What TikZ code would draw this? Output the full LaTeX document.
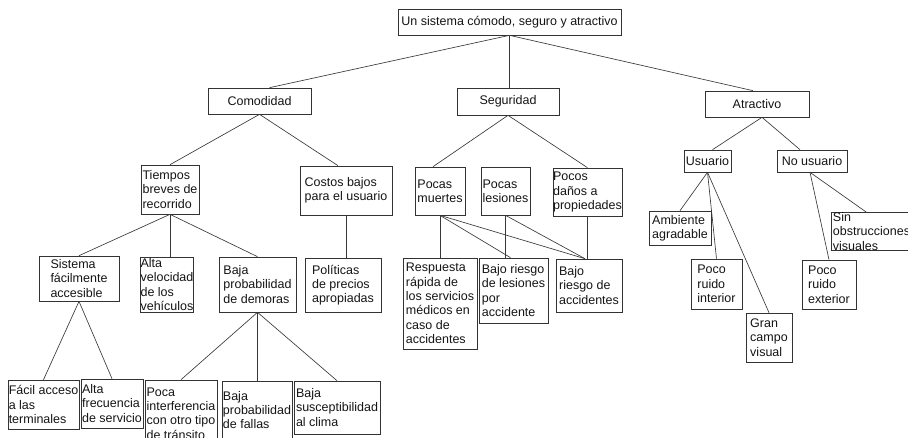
\documentclass[tikz,border=0pt]{standalone}
\usepackage{fontspec}
\setmainfont{Liberation Sans}
% \mkbox{name}{left}{top}{right}{bottom}{text}: a framed box given by its corners
\newcommand\mkbox[6]{%
  \node[box, minimum width={#4-#2}, minimum height={#5-#3}] (#1)
    at ({(#2+#4)/2},{(#3+#5)/2}) {#6};}
\begin{document}
\begin{tikzpicture}[x=1pt, y=-1pt,
  box/.style={draw=black!80, line width=0.65pt, inner sep=0pt, align=left,
    font=\fontsize{12.5}{14.3}\selectfont, text=black!92},
  link/.style={draw=black!78, line width=0.65pt}]
\useasboundingbox (0,0) rectangle (908,437);

% top level
\mkbox{root}{398}{9}{621}{35}{Un sistema cómodo, seguro y atractivo}
\mkbox{com}{208}{88}{311}{114}{Comodidad}
\mkbox{seg}{457}{88}{559}{115}{Seguridad}
\mkbox{atr}{705}{91}{809}{117}{Atractivo}

% comfort branch
\mkbox{tie}{141}{165}{199}{214}{Tiempos\\breves de\\recorrido}
\mkbox{cos}{300}{166}{392}{215}{Costos bajos\\para el usuario}
\mkbox{sfa}{39}{256}{119}{301}{Sistema\\fácilmente\\accesible}
\mkbox{avv}{143}{257}{191}{312}{Alta\\velocidad\\de los\\vehículos}
\mkbox{bpd}{219}{257}{296}{312}{Baja\\probabilidad\\de demoras}
\mkbox{pol}{305}{258}{381}{312}{Políticas\\de precios\\apropiadas}
\mkbox{fac}{8}{380}{79}{429}{Fácil acceso\\a las\\terminales}
\mkbox{afr}{81}{379}{143}{428}{Alta\\frecuencia\\de servicio}
\mkbox{poc}{145}{380}{217}{447}{Poca\\interferencia\\con otro tipo\\de tránsito}
\mkbox{bpf}{222}{381}{292}{439}{Baja\\probabilidad\\de fallas}
\mkbox{bsc}{294}{381}{380}{434}{Baja\\susceptibilidad\\al clima}

% safety branch
\mkbox{pm}{415}{167}{465}{215}{Pocas\\muertes}
\mkbox{pl}{481}{167}{530}{215}{Pocas\\lesiones}
\mkbox{pd}{553}{168}{622}{216}{Pocos\\daños a\\propiedades}
\mkbox{rd}{403}{258}{477}{349}{Respuesta\\rápida de\\los servicios\\médicos en\\caso de\\accidentes}
\mkbox{brl}{479}{258}{548}{323}{Bajo riesgo\\de lesiones\\por\\accidente}
\mkbox{bra}{556}{259}{622}{312}{Bajo\\riesgo de\\accidentes}

% attractiveness branch
\mkbox{usu}{684}{150}{731}{172}{Usuario}
\mkbox{nou}{777}{150}{847}{172}{No usuario}
\mkbox{amb}{649}{211}{711}{245}{Ambiente\\agradable}
\mkbox{pri}{691}{259}{742}{309}{Poco\\ruido\\interior}
\mkbox{gcv}{746}{313}{792}{362}{Gran\\campo\\visual}
\mkbox{pre}{802}{260}{856}{309}{Poco\\ruido\\exterior}
\mkbox{sob}{831}{213}{912}{250}{Sin\\obstrucciones\\visuales}

% connectors
\draw[link] (root.south) -- ([xshift=10pt]com.north);
\draw[link] (root.south) -- (root.south |- seg.north);
\draw[link] (root.south) -- ([xshift=-4pt]atr.north);

\draw[link] (com.south) -- (tie.north);
\draw[link] (com.south) -- ([xshift=-8pt]cos.north);
\draw[link] (tie.south) -- (sfa.north);
\draw[link] (tie.south) -- (tie.south |- avv.north);
\draw[link] (tie.south) -- (bpd.north);
\draw[link] (cos.south) -- (cos.south |- pol.north);
\draw[link] (sfa.south) -- (fac.north);
\draw[link] (sfa.south) -- (afr.north);
\draw[link] (bpd.south) -- (poc.north);
\draw[link] (bpd.south) -- (bpd.south |- bpf.north);
\draw[link] (bpd.south) -- (bsc.north);

\draw[link] (seg.south) -- ([xshift=-7pt]pm.north);
\draw[link] (seg.south) -- (pd.north);
\draw[link] (pm.south) -- (pm.south |- rd.north);
\draw[link] (pm.south) -- ([xshift=-3pt]brl.north);
\draw[link] (pm.south) -- ([xshift=-4pt]bra.north);
\draw[link] (pl.south) -- (pl.south |- brl.north);
\draw[link] (pl.south) -- ([xshift=-4pt]bra.north);
\draw[link] (pd.south) -- (pd.south |- bra.north);

\draw[link] ([xshift=5pt]atr.south) -- ([xshift=5pt]usu.north);
\draw[link] ([xshift=5pt]atr.south) -- ([xshift=-12pt]nou.north);
\draw[link] (usu.south) -- (amb.north);
\draw[link] (usu.south) -- (pri.north);
\draw[link] (usu.south) -- (gcv.north);
\draw[link] ([xshift=-2pt]nou.south) -- ([xshift=-5pt]sob.north);
\draw[link] ([xshift=-2pt]nou.south) -- (pre.north);
\end{tikzpicture}
\end{document}
